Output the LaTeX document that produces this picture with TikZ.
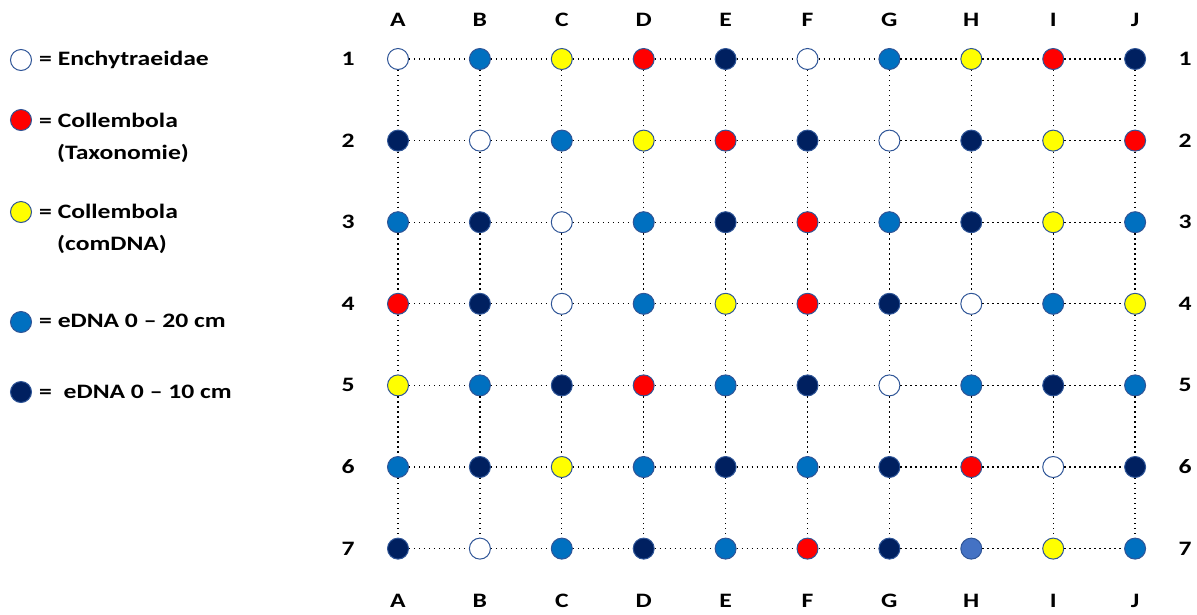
\documentclass[tikz,border=0pt]{standalone}
\usepackage{fontspec}
\setmainfont{Carlito}[FakeStretch=1.25]
\usetikzlibrary{positioning}

\definecolor{cW}{HTML}{FFFFFF}
\definecolor{cR}{HTML}{FF0000}
\definecolor{cY}{HTML}{FFFF00}
\definecolor{cB}{HTML}{0070C0}
\definecolor{cN}{HTML}{002060}
\definecolor{cL}{HTML}{4472C4}
\definecolor{ring}{HTML}{2F5597}

\begin{document}
\begin{tikzpicture}[x=1pt, y=-1pt,
		dot/.style={circle, draw=ring, line width=1pt, minimum size=21pt, inner sep=0pt},
		lbl/.style={font=\fontsize{20.5}{24}\selectfont\bfseries, inner sep=0pt},
		grid/.style={line width=1.3pt, dash pattern=on 1.3pt off 3.7pt}]
		\useasboundingbox (0,0) rectangle (1197,614);

		% sample points, one row per line
		\foreach \r/\cols in {1/{cW,cB,cY,cR,cN,cW,cB,cY,cR,cN},
			2/{cN,cW,cB,cY,cR,cN,cW,cN,cY,cR},
			3/{cB,cN,cW,cB,cN,cR,cB,cN,cY,cB},
			4/{cR,cN,cW,cB,cY,cR,cN,cW,cB,cY},
			5/{cY,cB,cN,cR,cB,cN,cW,cB,cN,cB},
			6/{cB,cN,cY,cB,cN,cB,cN,cR,cW,cN},
			7/{cN,cW,cB,cN,cB,cR,cN,cL,cY,cB}}{
			\foreach \c [count=\i] in \cols{
				\node[dot, fill=\c] (n\i-\r) at ({398+(\i-1)*81.9},{59+(\r-1)*81.6}) {};
			}
		}

		% dotted grid between neighbours
		\foreach \r in {1,...,7}{
			\foreach \i [evaluate=\i as \j using int(\i+1)] in {1,...,9}{
				\draw[grid] (n\i-\r) -- (n\j-\r);
			}
		}
		\foreach \i in {1,...,10}{
			\foreach \r [evaluate=\r as \s using int(\r+1)] in {1,...,6}{
				\draw[grid] (n\i-\r) -- (n\i-\s);
			}
		}

		% column and row labels
		\foreach \l [count=\i] in {A,B,C,D,E,F,G,H,I,J}{
			\node[lbl] (top\i) at ({398+(\i-1)*81.9},20) {\l};
			\node[lbl] (bot\i) at ({398+(\i-1)*81.9},601) {\l};
		}
		\foreach \r in {1,...,7}{
			\node[lbl] (left\r) at (348,{59+(\r-1)*81.6}) {\r};
			\node[lbl] (right\r) at (1185,{59+(\r-1)*81.6}) {\r};
		}

		% legend
		\node[dot, fill=cW] (leg1) at (21,60) {};
		\node[dot, fill=cR] (leg2) at (21,120) {};
		\node[dot, fill=cY] (leg3) at (21,212) {};
		\node[dot, fill=cB] (leg4) at (21,322) {};
		\node[dot, fill=cN] (leg5) at (21,392) {};
		\node[lbl, anchor=west] (txt1) at (39,60) {= Enchytraeidae};
		\node[lbl, anchor=west] (txt2) at (39,120) {= Collembola};
		\node[lbl, anchor=west] (txt2b) at (57,153) {(Taxonomie)};
		\node[lbl, anchor=west] (txt3) at (39,211) {= Collembola};
		\node[lbl, anchor=west] (txt3b) at (57,244) {(comDNA)};
		\node[lbl, anchor=west] (txt4) at (39,321) {= eDNA 0 -- 20 cm};
		\node[lbl, anchor=west] (txt5) at (39,392) {=\hspace{6pt} eDNA 0 -- 10 cm};
	\end{tikzpicture}
\end{document}
